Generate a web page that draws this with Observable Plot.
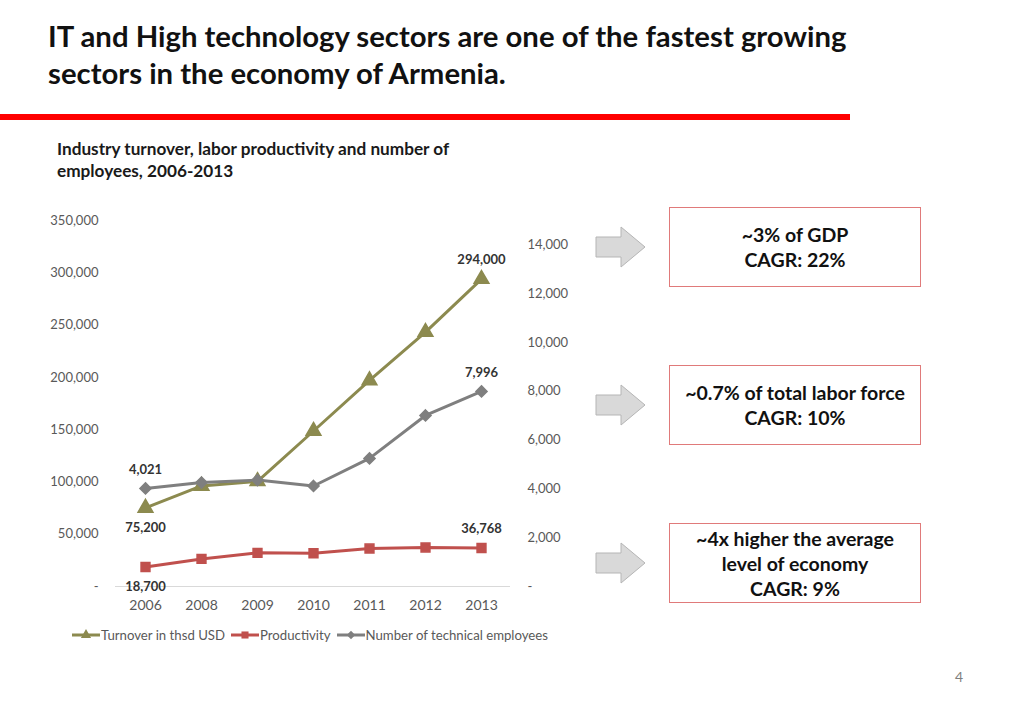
<!DOCTYPE html>
<html>
<head>
<meta charset="utf-8">
<script src="https://cdn.jsdelivr.net/npm/d3@7"></script>
<script src="https://cdn.jsdelivr.net/npm/@observablehq/plot@0.6"></script>
<style>
  html, body { margin:0; padding:0; background:#fff; }
  body { width:1024px; height:709px; position:relative; overflow:hidden; font-family: Lato, "Open Sans", sans-serif; }
  .abs { position:absolute; }
  #title { left:48px; top:17px; font-size:29.3px; font-weight:700; line-height:37px; color:#111; white-space:nowrap; }
  #redrule { left:0; top:114px; width:850px; height:6px; background:#ff0000; }
  #subtitle { left:57px; top:138px; font-size:17.2px; font-weight:700; line-height:22px; color:#1a1a1a; white-space:nowrap; }
  #chart { left:0; top:200px; }
  #legend { left:72px; top:627px; font-size:13.2px; color:#595959; display:flex; align-items:center; white-space:nowrap; }
  #legend .item { display:flex; align-items:center; margin-right:6px; }
  #legend svg { margin-right:1px; }
  .box { position:absolute; left:669px; width:252px; border:1.5px solid #e07a7a; box-sizing:border-box; display:flex; align-items:center; justify-content:center; text-align:center; font-weight:700; font-size:19.5px; line-height:25px; color:#111; white-space:nowrap; }
  .arrow { position:absolute; left:595px; }
  #page { left:955px; top:668px; font-size:14px; color:#7f7f7f; }
</style>
</head>
<body>
<div id="title" class="abs">IT and High technology sectors are one of the fastest growing<br>sectors in the economy of Armenia.</div>
<div id="redrule" class="abs"></div>
<div id="subtitle" class="abs">Industry turnover, labor productivity and number of<br>employees, 2006-2013</div>
<div id="chart" class="abs"></div>
<div id="legend" class="abs"></div>
<div id="side"></div>
<div id="page" class="abs">4</div>
<script>
// ---- data ----
const years = ["2006", "2008", "2009", "2010", "2011", "2012", "2013"];
const turnover = [75200, 96200, 100600, 148700, 197100, 243300, 294000];
const productivity = [18700, 26400, 32200, 31800, 36300, 37300, 36768];
const employees = [4021, 4260, 4360, 4120, 5250, 7010, 7996];
const leftTicks = [0, 50000, 100000, 150000, 200000, 250000, 300000, 350000];
const rightTicks = [0, 2000, 4000, 6000, 8000, 10000, 12000, 14000];
const leftMax = 350000;
const rightMax = 15000;
const seriesNames = ["Turnover in thsd USD", "Productivity", "Number of technical employees"];
const seriesColors = ["#8c8a4f", "#c0504d", "#7f7f7f"];
const seriesSymbols = ["triangle", "square", "diamond2"];
const boxTexts = [
  ["~3% of GDP", "CAGR: 22%"],
  ["~0.7% of total labor force", "CAGR: 10%"],
  ["~4x higher the average", "level of economy", "CAGR: 9%"]
];

// ---- build ----
const k = leftMax / rightMax;
const fmt = d3.format(",");
const tf = d => d === 0 ? "-" : fmt(d);

const rows = [];
years.forEach((y, i) => {
  rows.push({year: y, s: 0, value: turnover[i], pos: turnover[i]});
  rows.push({year: y, s: 1, value: productivity[i], pos: productivity[i]});
  rows.push({year: y, s: 2, value: employees[i], pos: employees[i] * k});
});
const first = years[0], last = years[years.length - 1];
const labelAbove = rows.filter(r => (r.year === last) || (r.year === first && r.s === 2));
const labelBelow = rows.filter(r => r.year === first && r.s !== 2);

const lineMarks = [0, 1, 2].map(s =>
  Plot.line(rows.filter(r => r.s === s), {x: "year", y: "pos", stroke: seriesColors[s], strokeWidth: 3})
);
const dotMarks = [0, 1, 2].map(s =>
  Plot.dot(rows.filter(r => r.s === s), {x: "year", y: "pos", fill: seriesColors[s], stroke: seriesColors[s], symbol: seriesSymbols[s], r: s === 0 ? 5.5 : 5})
);

const chart = Plot.plot({
  width: 600, height: 430,
  marginLeft: 115, marginRight: 90, marginTop: 20, marginBottom: 44,
  x: {type: "point", domain: years, padding: 0.5},
  y: {domain: [0, leftMax]},
  style: {fontFamily: "Lato, 'Open Sans', sans-serif", fontSize: "13px", color: "#595959", background: "transparent"},
  marks: [
    Plot.ruleY([0], {stroke: "#d9d9d9", strokeWidth: 1}),
    Plot.axisX({tickSize: 0, tickPadding: 14, fontSize: 14, label: null}),
    Plot.axisY({ticks: leftTicks, tickSize: 0, tickPadding: 17, tickFormat: tf, label: null}),
    Plot.axisY(rightTicks.map(t => t * k), {anchor: "right", tickSize: 0, tickPadding: 17, tickFormat: d => tf(Math.round(d / k)), label: null}),
    ...lineMarks,
    ...dotMarks,
    Plot.text(labelAbove, {x: "year", y: "pos", text: d => fmt(d.value), dy: -19, fontWeight: 700, fontSize: 13, fill: "#333"}),
    Plot.text(labelBelow, {x: "year", y: "pos", text: d => fmt(d.value), dy: 20, fontWeight: 700, fontSize: 13, fill: "#333"})
  ]
});
document.getElementById("chart").appendChild(chart);

// legend
const legend = document.getElementById("legend");
seriesNames.forEach((name, s) => {
  const item = document.createElement("div");
  item.className = "item";
  const sym = d3.symbol().type(s === 0 ? d3.symbolTriangle : s === 1 ? d3.symbolSquare : d3.symbolDiamond2).size(s === 1 ? 50 : 45)();
  item.innerHTML = `<svg width="28" height="16"><line x1="0" x2="28" y1="8" y2="8" stroke="${seriesColors[s]}" stroke-width="3"/><path transform="translate(14,8)" d="${sym}" fill="${seriesColors[s]}"/></svg><span>${name}</span>`;
  legend.appendChild(item);
});

// side boxes and arrows
const side = document.getElementById("side");
const boxTops = [207, 365, 523];
const boxHeights = [80, 80, 80];
boxTexts.forEach((lines, i) => {
  const b = document.createElement("div");
  b.className = "box";
  b.style.top = boxTops[i] + "px";
  b.style.height = boxHeights[i] + "px";
  b.innerHTML = lines.join("<br>");
  side.appendChild(b);
  const a = document.createElement("div");
  a.className = "arrow";
  a.style.top = (boxTops[i] + 19) + "px";
  a.innerHTML = `<svg width="52" height="42"><path d="M1,11 H26 V1 L50,21 L26,41 V31 H1 Z" fill="#d9d9d9" stroke="#b5b5b5" stroke-width="1"/></svg>`;
  side.appendChild(a);
});
</script>
</body>
</html>
